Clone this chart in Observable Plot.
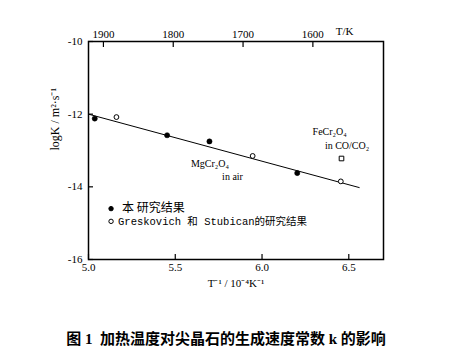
<!DOCTYPE html>
<html><head><meta charset="utf-8">
<script src="https://cdn.jsdelivr.net/npm/d3@7"></script>
<script src="https://cdn.jsdelivr.net/npm/@observablehq/plot@0.6"></script>
<style>
body{margin:0;background:#fff;width:472px;height:355px;position:relative;overflow:hidden}
#cap{position:absolute;left:0;width:452px;top:327px;text-align:center;font:bold 15px "Liberation Serif","Noto Sans CJK SC",serif;color:#000;white-space:nowrap}
</style></head><body>
<div id="chart"></div>
<div id="cap">图 1&nbsp; 加热温度对尖晶石的生成速度常数 k 的影响</div>
<script>
// This study (filled)
const ownX = [5.036, 5.453, 5.697, 6.203];
const ownY = [-12.12, -12.58, -12.75, -13.62];
// Greskovich & Stubican (open)
const gsX = [5.161, 5.946, 6.454];
const gsY = [-12.08, -13.15, -13.85];
// FeCr2O4 in CO/CO2 (square)
const feX = [6.458];
const feY = [-13.22];
// fitted line
const fitX = [5.0, 6.56];
const fitY = [-12.0, -14.02];
// axis ticks
const xTicks = [5.0, 5.5, 6.0, 6.5];
const yTicks = [-10, -12, -14, -16];
const topTicks = [1900, 1800, 1700, 1600];
const tToX = d3.scaleLinear([1900, 1600], [5.086, 6.293]);
// annotations
const notes = [
  {x: 5.70, y: -13.37, t: "MgCr₂O₄"},
  {x: 5.83, y: -13.72, t: "in air"},
  {x: 6.39, y: -12.49, t: "FeCr₂O₄"},
  {x: 6.49, y: -12.87, t: "in CO/CO₂"}
];
const legendLabels = ["本 研究结果", "Greskovich 和 Stubican的研究结果"];
const legendY = [-14.60, -14.95];

const serif = '"Liberation Serif","Times New Roman",serif';
const own = ownX.map((x, i) => ({x, y: ownY[i]}));
const gs = gsX.map((x, i) => ({x, y: gsY[i]}));
const fe = feX.map((x, i) => ({x, y: feY[i]}));
const fit = fitX.map((x, i) => ({x, y: fitY[i]}));

const plot = Plot.plot({
  width: 472, height: 315,
  marginLeft: 88, marginRight: 89, marginTop: 41, marginBottom: 56,
  style: {fontFamily: serif, fontSize: "11px", color: "#000", background: "#fff"},
  x: {domain: [5.0, 6.7], label: null},
  y: {domain: [-16, -10], label: null},
  marks: [
    Plot.axisX(xTicks, {tickSize: -5, text: null, strokeWidth: 1.2, label: null}),
    Plot.axisX(xTicks, {tickSize: 0, tickPadding: 4, tickFormat: d3.format(".1f"), fontSize: 11, label: null}),
    Plot.axisY(yTicks, {tickSize: -5, text: null, strokeWidth: 1.2, label: null}),
    Plot.axisY(yTicks, {tickSize: 0, tickPadding: 6, tickFormat: d => String(d), fontSize: 11, label: null}),
    Plot.axisX(topTicks.map(tToX), {anchor: "top", tickSize: -5, text: null, strokeWidth: 1.2, label: null}),
    Plot.text(topTicks, {x: d => tToX(d), frameAnchor: "top", dy: -11, text: d => String(d), fontSize: 11}),
    Plot.text(["T/K"], {frameAnchor: "top-right", dx: -30, dy: -14, fontSize: 11}),
    Plot.text(["logK / m²·s⁻¹"], {frameAnchor: "left", dx: -33, rotate: -90, fontSize: 12}),
    Plot.text(["T⁻¹ / 10⁻⁴K⁻¹"], {frameAnchor: "bottom", dy: 27, fontSize: 11}),
    Plot.frame({stroke: "#000", strokeWidth: 1.5}),
    Plot.line(fit, {x: "x", y: "y", stroke: "#000", strokeWidth: 1}),
    Plot.dot(own, {x: "x", y: "y", r: 2.6, fill: "#000", stroke: "#000", strokeWidth: 0.5}),
    Plot.dot(gs, {x: "x", y: "y", r: 2.4, fill: "#fff", stroke: "#000", strokeWidth: 1}),
    Plot.dot(fe, {x: "x", y: "y", symbol: "square", r: 2.6, fill: "#fff", stroke: "#000", strokeWidth: 1}),
    Plot.text(notes, {x: "x", y: "y", text: "t", fontSize: 10}),
    Plot.dot([0, 1], {x: () => 5.13, y: i => legendY[i], r: 2.2, fill: i => i === 0 ? "#000" : "#fff", stroke: "#000", strokeWidth: 1}),
    Plot.text([0], {x: () => 5.13, y: i => legendY[i], dx: 11, text: i => legendLabels[i], textAnchor: "start", fontSize: 12, fontFamily: '"Noto Sans CJK SC",sans-serif'}),
    Plot.text([1], {x: () => 5.13, y: i => legendY[i], dx: 7, text: i => legendLabels[i], textAnchor: "start", fontSize: 10.5, fontFamily: '"Liberation Mono","Noto Sans CJK SC",monospace'})
  ]
});
document.getElementById("chart").appendChild(plot);
</script>
</body></html>
